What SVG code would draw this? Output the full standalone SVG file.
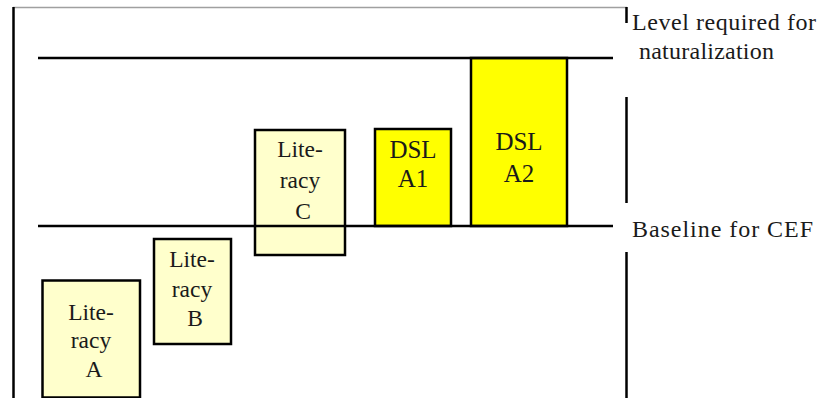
<svg xmlns="http://www.w3.org/2000/svg" width="820" height="398" viewBox="0 0 820 398">
  <style>
    text { font-family: 'Liberation Serif', 'Times New Roman', serif; fill: #1a1a1a; }
    .lbl { font-size: 23.5px; text-anchor: middle; }
    .big { font-size: 25px; }
    .side { font-size: 24px; }
    .lit { fill: #ffffcc; stroke: #000; stroke-width: 2.5; }
    .dsl { fill: #ffff00; stroke: #000; stroke-width: 2.5; }
    .rule { stroke: #000; stroke-width: 2.5; fill: none; }
    .frame { stroke: #000; stroke-width: 2.5; fill: none; }
  </style>

  <!-- outer frame -->
  <g id="frame">
    <line x1="13" y1="7.5" x2="627" y2="7.5" stroke="#a0a0a0" stroke-width="1.5"/>
    <line class="frame" x1="13.5" y1="7" x2="13.5" y2="398"/>
    <line class="frame" x1="626.5" y1="7" x2="626.5" y2="23"/>
    <line class="frame" x1="626.5" y1="97" x2="626.5" y2="203"/>
    <line class="frame" x1="626.5" y1="252" x2="626.5" y2="398"/>
  </g>

  <g id="literacy-a">
    <rect class="lit" x="42.5" y="280.5" width="97.5" height="117"/>
    <text class="lbl" x="91" y="320">Lite-</text>
    <text class="lbl" x="91" y="348">racy</text>
    <text class="lbl" x="94" y="377">A</text>
  </g>

  <g id="literacy-b">
    <rect class="lit" x="154" y="239" width="77" height="105"/>
    <text class="lbl" x="192" y="267">Lite-</text>
    <text class="lbl" x="192" y="297">racy</text>
    <text class="lbl" x="195" y="326">B</text>
  </g>

  <g id="literacy-c">
    <rect class="lit" x="255" y="130" width="90" height="125"/>
    <text class="lbl" x="300" y="157">Lite-</text>
    <text class="lbl" x="300" y="188">racy</text>
    <text class="lbl" x="303" y="219">C</text>
  </g>

  <g id="dsl-a1">
    <rect class="dsl" x="375" y="129" width="76" height="97"/>
    <text class="lbl big" x="413" y="158">DSL</text>
    <text class="lbl big" x="413" y="187">A1</text>
  </g>

  <g id="dsl-a2">
    <rect class="dsl" x="471" y="58" width="96" height="168"/>
    <text class="lbl big" x="519" y="150">DSL</text>
    <text class="lbl big" x="519" y="182">A2</text>
  </g>

  <!-- reference levels -->
  <g id="connectors">
    <line class="rule" x1="38" y1="58" x2="613" y2="58"/>
    <line class="rule" x1="38" y1="226" x2="613" y2="226"/>
  </g>

  <g id="level-labels">
    <text class="side" x="632" y="30" textLength="184">Level required for</text>
    <text class="side" x="639" y="59" textLength="135">naturalization</text>
    <text class="side" x="632" y="237" textLength="181">Baseline for CEF</text>
  </g>
</svg>
